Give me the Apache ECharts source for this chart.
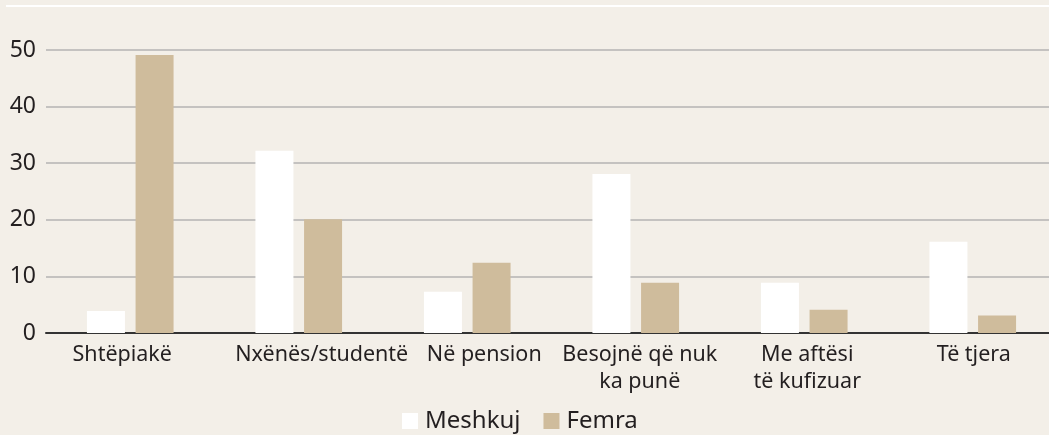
<!DOCTYPE html>
<html>
<head>
<meta charset="utf-8">
<script src="https://cdn.jsdelivr.net/npm/echarts@6/dist/echarts.min.js"></script>
<style>
  html, body { margin: 0; padding: 0; background: #f3efe8; }
  #main { width: 1049px; height: 435px; }
</style>
</head>
<body>
<div id="main"></div>
<script>
// kategoritë dhe vlerat (%)
var categories = ['Shtëpiakë', 'Nxënës/studentë', 'Në pension', 'Besojnë që nuk\nka punë', 'Me aftësi\ntë kufizuar', 'Të tjera'];
var meshkuj = [3.9, 32.2, 7.3, 28.1, 8.9, 16.1];
var femra = [49.1, 20.1, 12.4, 8.9, 4.1, 3.1];
var seriesNames = ['Meshkuj', 'Femra'];

var font = 'Noto Sans';
var textColor = '#231f20';
// labels in the original are not quite centred under the bars
var labelShift = [-8, 23, 17, 4, 3, 1];

var rich = {};
labelShift.forEach(function (s, i) {
    rich['c' + i] = {
        fontFamily: font, fontSize: 21.5, color: textColor, lineHeight: 27,
        padding: s >= 0 ? [0, 0, 0, 2 * s] : [0, -2 * s, 0, 0]
    };
});

var chart = echarts.init(document.getElementById('main'));
chart.setOption({
    backgroundColor: '#f3efe8',
    animation: false,
    textStyle: { fontFamily: font },
    graphic: [{
        type: 'line',
        shape: { x1: 6, y1: 6, x2: 1049, y2: 6 },
        style: { stroke: '#ffffff', lineWidth: 2 }
    }],
    legend: {
        data: seriesNames,
        bottom: -3,
        left: 397,
        itemWidth: 16,
        itemHeight: 16,
        itemGap: 23,
        icon: 'rect',
        textStyle: { fontFamily: font, fontSize: 24, color: textColor, padding: [0, 0, 0, 2] }
    },
    grid: { left: 46, top: 50, width: 1011, bottom: 102, containLabel: false, outerBoundsMode: 'none' },
    xAxis: {
        type: 'category',
        data: categories,
        axisLine: { lineStyle: { color: '#333333', width: 2 } },
        axisTick: { show: false },
        axisLabel: {
            fontFamily: font,
            fontSize: 21.5,
            color: textColor,
            margin: 8,
            lineHeight: 27,
            interval: 0,
            formatter: function (v, i) {
                return v.split('\n').map(function (line) {
                    return '{c' + i + '|' + line + '}';
                }).join('\n');
            },
            rich: rich
        }
    },
    yAxis: {
        type: 'value',
        min: 0,
        max: 50,
        interval: 10,
        axisLine: { show: false },
        axisTick: { show: false },
        splitLine: { lineStyle: { color: '#c4c2c0', width: 2 } },
        axisLabel: { fontFamily: font, fontSize: 23, color: textColor, margin: 10 }
    },
    series: [{
        name: seriesNames[0],
        type: 'bar',
        data: meshkuj,
        barWidth: 38,
        barGap: '28%',
        itemStyle: { color: '#ffffff' }
    }, {
        name: seriesNames[1],
        type: 'bar',
        data: femra,
        barWidth: 38,
        itemStyle: { color: '#cfbc9c' }
    }]
});
</script>
</body>
</html>
